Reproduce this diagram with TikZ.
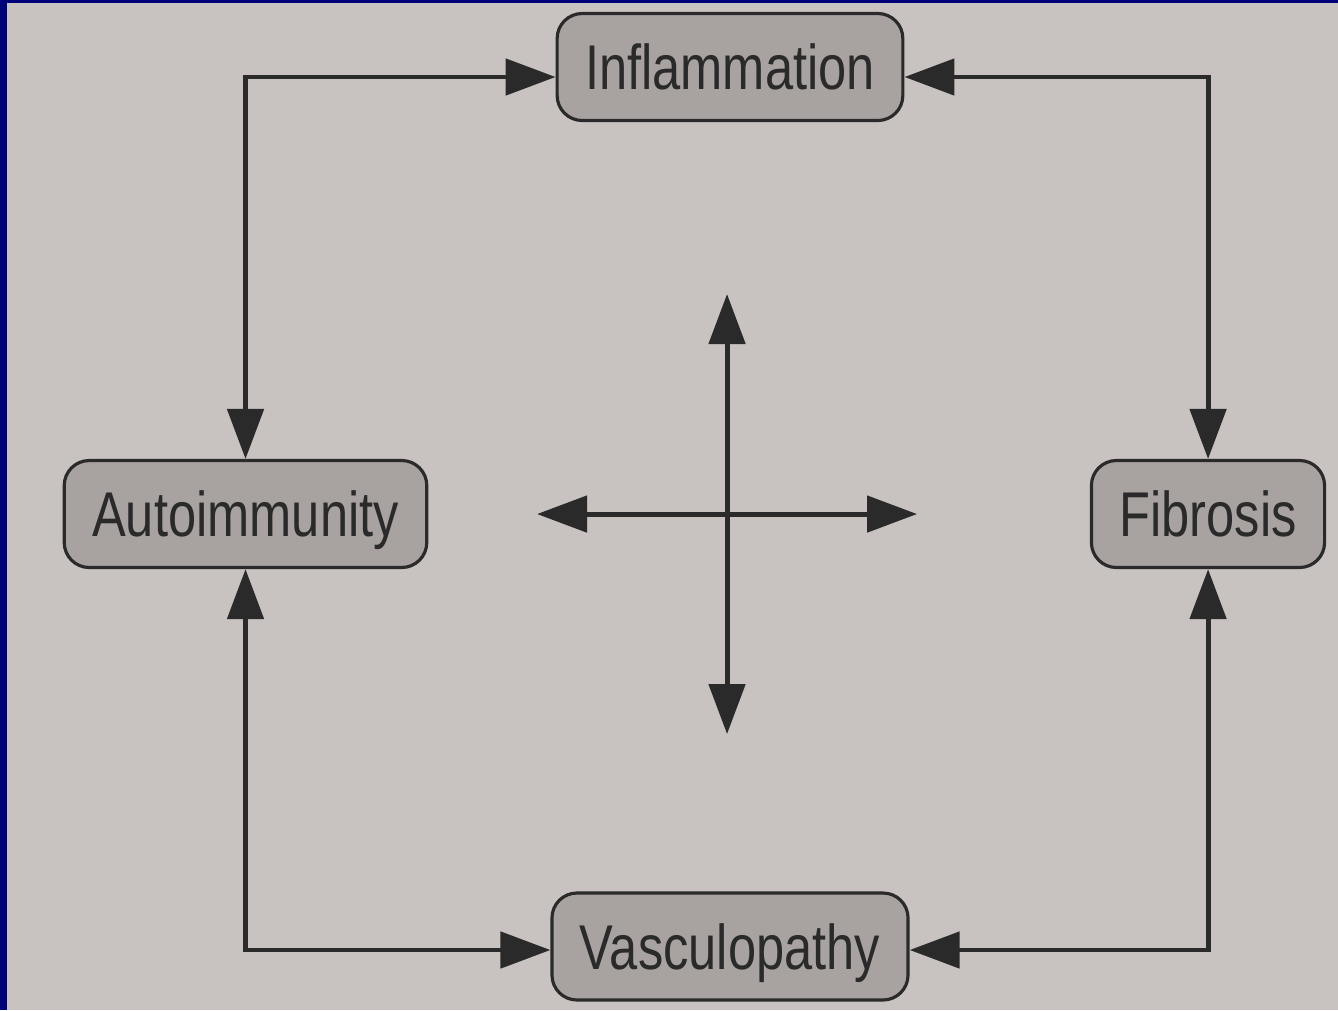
\documentclass[tikz,border=0pt]{standalone}
\usepackage{fontspec}
\usetikzlibrary{arrows.meta}
\newfontfamily\boxfont[FakeStretch=0.8]{Liberation Sans}
\definecolor{frameblue}{HTML}{000078}
\definecolor{paper}{HTML}{C8C3C0}
\definecolor{boxgray}{HTML}{A8A3A1}
\definecolor{ink}{HTML}{2A2A2A}

\begin{document}
\begin{tikzpicture}[scale=0.1]
\tikzstyle{every node}+=[inner sep=0pt]
\tikzstyle{box}=[draw=ink, fill=boxgray, line width=0.9pt, rounded corners=2.5mm, minimum height=10.7mm, inner xsep=2.8mm, text height=13pt, text depth=0pt, text=ink, font=\boxfont\fontsize{18}{20}\selectfont]
\tikzstyle{link}=[draw=ink, line width=1.4pt, {Triangle[length=5mm,width=3.6mm]}-{Triangle[length=5mm,width=3.6mm]}]
\fill [frameblue] (0,0) rectangle (133.8,-101);
\fill [paper] (0.7,-0.3) rectangle (133.8,-101);
\useasboundingbox (0,0) rectangle (133.8,-101);
\node [box] (inflam) at (73,-6.7) {Inflammation};
\node [box] (autoimm) at (24.55,-51.4) {Autoimmunity};
\node [box] (fibro) at (120.8,-51.4) {Fibrosis};
\node [box] (vasculo) at (73,-94.65) {Vasculopathy};
\draw [link] (autoimm.north) |- (inflam.west |- 0,-7.7);
\draw [link] (fibro.north) |- (inflam.east |- 0,-7.7);
\draw [link] (autoimm.south) |- (vasculo.west |- 0,-95);
\draw [link] (fibro.south) |- (vasculo.east |- 0,-95);
\coordinate (up) at (72.7,-29.4);
\coordinate (down) at (72.7,-73.4);
\coordinate (lft) at (53.7,-51.4);
\coordinate (rgt) at (91.7,-51.4);
\draw [link] (lft) -- (rgt);
\draw [link] (up) -- (down);
\end{tikzpicture}
\end{document}
